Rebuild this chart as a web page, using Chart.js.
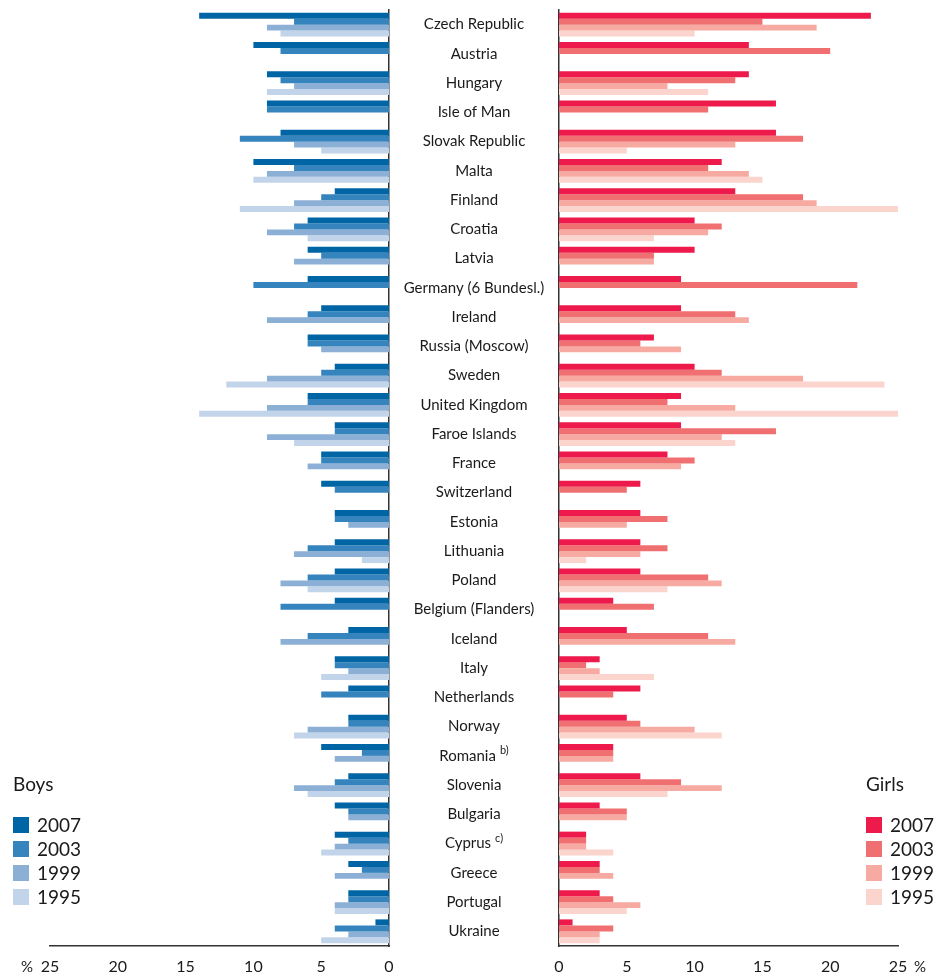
<!DOCTYPE html>
<html>
<head>
<meta charset="utf-8">
<title>Boys and girls, 1995-2007</title>
<script src="https://cdn.jsdelivr.net/npm/chart.js@4.4.1/dist/chart.umd.min.js"></script>
<style>
  html, body { margin: 0; padding: 0; background: #fff; }
  #wrap { position: relative; width: 947px; height: 976px; }
  #boys { position: absolute; left: 0; top: 0; }
  #girls { position: absolute; left: 389px; top: 0; }
</style>
</head>
<body>
<div id="wrap">
  <canvas id="boys" width="400" height="976"></canvas>
  <canvas id="girls" width="558" height="976"></canvas>
</div>
<script>
// categories (top to bottom)
const categories = [
  "Czech Republic", "Austria", "Hungary", "Isle of Man", "Slovak Republic", "Malta",
  "Finland", "Croatia", "Latvia", "Germany (6 Bundesl.)", "Ireland", "Russia (Moscow)",
  "Sweden", "United Kingdom", "Faroe Islands", "France", "Switzerland", "Estonia",
  "Lithuania", "Poland", "Belgium (Flanders)", "Iceland", "Italy", "Netherlands",
  "Norway", "Romania", "Slovenia", "Bulgaria", "Cyprus", "Greece", "Portugal", "Ukraine"
];
// footnote marks behind some names
const notes = ["", "", "", "", "", "", "", "", "", "", "", "", "", "", "", "", "", "", "",
  "", "", "", "", "", "", "b)", "", "", "c)", "", "", ""];

const years = ["2007", "2003", "1999", "1995"];

// boys, %
const boys2007 = [14, 10, 9, 9, 8, 10, 4, 6, 6, 6, 5, 6, 4, 6, 4, 5, 5, 4, 4, 4, 4, 3, 4, 3, 3, 5, 3, 4, 4, 3, 3, 1];
const boys2003 = [7, 8, 8, 9, 11, 7, 5, 7, 5, 10, 6, 6, 5, 6, 4, 5, 4, 4, 6, 6, 8, 6, 4, 5, 3, 2, 4, 3, 3, 2, 3, 4];
const boys1999 = [9, null, 7, null, 7, 9, 7, 9, 7, null, 9, 5, 9, 9, 9, 6, null, 3, 7, 8, null, 8, 3, null, 6, 4, 7, 3, 4, 4, 4, 3];
const boys1995 = [8, null, 9, null, 5, 10, 11, 6, null, null, null, null, 12, 14, 7, null, null, null, 2, 6, null, null, 5, null, 7, null, 6, null, 5, null, 4, 5];

// girls, %
const girls2007 = [23, 14, 14, 16, 16, 12, 13, 10, 10, 9, 9, 7, 10, 9, 9, 8, 6, 6, 6, 6, 4, 5, 3, 6, 5, 4, 6, 3, 2, 3, 3, 1];
const girls2003 = [15, 20, 13, 11, 18, 11, 18, 12, 7, 22, 13, 6, 12, 8, 16, 10, 5, 8, 8, 11, 7, 11, 2, 4, 6, 4, 9, 5, 2, 3, 4, 4];
const girls1999 = [19, null, 8, null, 13, 14, 19, 11, 7, null, 14, 9, 18, 13, 12, 9, null, 5, 6, 12, null, 13, 3, null, 10, 4, 12, 5, 2, 4, 6, 3];
const girls1995 = [10, null, 11, null, 5, 15, 25, 7, null, null, null, null, 24, 25, 13, null, null, null, 2, 8, null, null, 7, null, 12, null, 8, null, 4, null, 5, 3];

const boysColors = ["#0065a5", "#3584be", "#8cafd6", "#c2d4ea"];
const girlsColors = ["#ed1a4b", "#f07071", "#f7aaa2", "#fad4cd"];

Chart.defaults.font.family = "Lato, 'Open Sans', sans-serif";
Chart.defaults.color = "#1a1a1a";

function makeSets(series, colors) {
  return series.map((d, i) => ({
    label: years[i],
    data: d,
    backgroundColor: colors[i],
    borderWidth: 0,
    barPercentage: 1,
    categoryPercentage: 0.82
  }));
}

// legend block + "%" sign drawn on the canvas
function extrasPlugin(title, x, pctX) {
  return {
    id: "extras",
    afterDraw(chart) {
      const c = chart.ctx;
      c.save();
      c.fillStyle = "#1a1a1a";
      c.textBaseline = "middle";
      c.textAlign = "left";
      c.font = "19px Lato";
      c.fillText(title, x, 785);
      chart.data.datasets.forEach((ds, i) => {
        const y = 817 + i * 24;
        c.fillStyle = ds.backgroundColor;
        c.fillRect(x, y, 16, 16);
        c.fillStyle = "#1a1a1a";
        c.font = "19px Lato";
        c.fillText(ds.label, x + 24, y + 9);
      });
      c.font = "15px Lato";
      c.textAlign = "center";
      c.fillText("%", pctX, 967);
      c.restore();
    }
  };
}

// country names in the gap between the two charts
const namesPlugin = {
  id: "names",
  afterDraw(chart) {
    const c = chart.ctx;
    const cx = chart.chartArea.left - 85;
    c.save();
    c.fillStyle = "#1a1a1a";
    c.textBaseline = "middle";
    c.textAlign = "left";
    categories.forEach((name, i) => {
      const y = chart.scales.y.getPixelForValue(i);
      c.font = "15px Lato";
      const w1 = c.measureText(name).width;
      let w2 = 0;
      if (notes[i]) {
        c.font = "11px Lato";
        w2 = c.measureText(notes[i]).width + 4;
      }
      const x0 = cx - (w1 + w2) / 2;
      c.font = "15px Lato";
      c.fillText(name, x0, y);
      if (notes[i]) {
        c.font = "11px Lato";
        c.fillText(notes[i], x0 + w1 + 4, y - 5);
      }
    });
    c.restore();
  }
};

function axisOpts(reverse) {
  return {
    x: {
      reverse: reverse,
      min: 0,
      max: 25,
      ticks: { stepSize: 5, padding: 11, color: "#1a1a1a", font: { size: 16 } },
      grid: { display: false, drawTicks: false },
      border: { display: true, color: "#333", width: 1.5 },
      afterFit: s => {
        s.height = 30;
        // the layout padding alone decides the plot edges
        s.paddingLeft = 0;
        s.paddingRight = 0;
      }
    },
    y: {
      position: reverse ? "right" : "left",
      ticks: { display: false },
      grid: { display: false, drawTicks: false },
      border: { display: true, color: "#333", width: 1.5 },
      afterFit: s => { s.width = reverse ? 0 : 170; }
    }
  };
}

// boys (left, reversed)
new Chart(document.getElementById("boys").getContext("2d"), {
  type: "bar",
  data: { labels: categories, datasets: makeSets([boys2007, boys2003, boys1999, boys1995], boysColors) },
  options: {
    indexAxis: "y",
    responsive: false,
    animation: false,
    layout: { padding: { left: 50, right: 11, top: 10, bottom: 0 } },
    plugins: { legend: { display: false }, tooltip: { enabled: false } },
    scales: axisOpts(true)
  },
  plugins: [extrasPlugin("Boys", 13, 27)]
});

// girls (right) with the names
new Chart(document.getElementById("girls").getContext("2d"), {
  type: "bar",
  data: { labels: categories, datasets: makeSets([girls2007, girls2003, girls1999, girls1995], girlsColors) },
  options: {
    indexAxis: "y",
    responsive: false,
    animation: false,
    layout: { padding: { left: 0, right: 49, top: 10, bottom: 0 } },
    plugins: { legend: { display: false }, tooltip: { enabled: false } },
    scales: axisOpts(false)
  },
  plugins: [namesPlugin, extrasPlugin("Girls", 477, 531)]
});
</script>
</body>
</html>
